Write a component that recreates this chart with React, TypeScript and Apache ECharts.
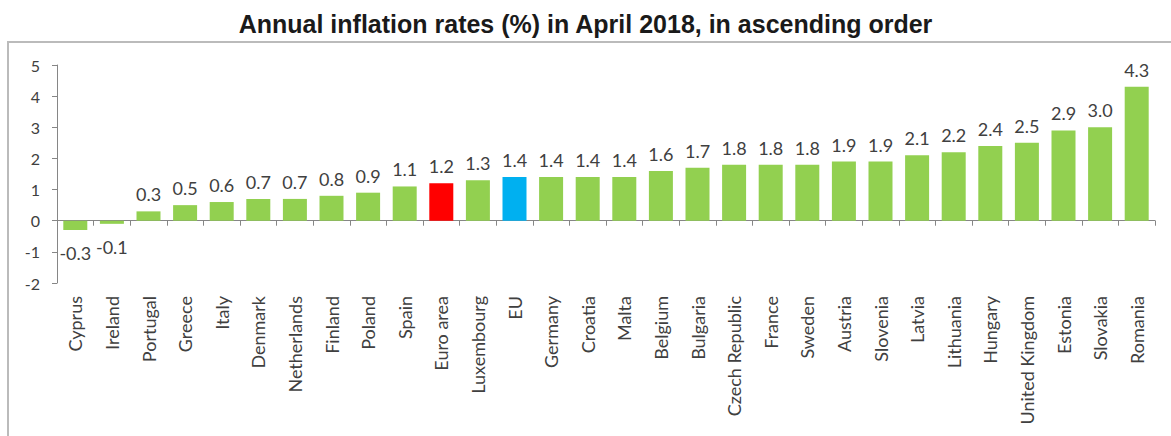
import React, { useEffect, useRef } from "react";
import * as echarts from "echarts";

const categories = [
  "Cyprus", "Ireland", "Portugal", "Greece", "Italy", "Denmark", "Netherlands", "Finland",
  "Poland", "Spain", "Euro area", "Luxembourg", "EU", "Germany", "Croatia", "Malta",
  "Belgium", "Bulgaria", "Czech Republic", "France", "Sweden", "Austria", "Slovenia",
  "Latvia", "Lithuania", "Hungary", "United Kingdom", "Estonia", "Slovakia", "Romania",
];
const values = [
  -0.3, -0.1, 0.3, 0.5, 0.6, 0.7, 0.7, 0.8, 0.9, 1.1, 1.2, 1.3, 1.4, 1.4, 1.4, 1.4,
  1.6, 1.7, 1.8, 1.8, 1.8, 1.9, 1.9, 2.1, 2.2, 2.4, 2.5, 2.9, 3.0, 4.3,
];
const highlight: Record<string, string> = { "Euro area": "#FF0000", EU: "#00B0F0" };
const yTicks = { min: -2, max: 5, interval: 1 };

const GREEN = "#92D050";
const TEXT = "#404040";
const FONT = "Lato, 'Open Sans', sans-serif";

export default function App() {
  const ref = useRef<HTMLDivElement>(null);
  useEffect(() => {
    if (!ref.current) return;
    const chart = echarts.init(ref.current, null, { renderer: "svg" });
    chart.setOption({
      animation: false,
      backgroundColor: "#ffffff",
      title: {
        text: "Annual inflation rates (%) in April 2018, in ascending order",
        left: "center",
        top: 6,
        textStyle: { fontFamily: "Arial, 'Liberation Sans', sans-serif", fontWeight: "bold", fontSize: 25, color: "#1a1a1a" },
      },
      graphic: [
        {
          type: "rect",
          shape: { x: 8, y: 42, width: 1175, height: 420 },
          style: { fill: "none", stroke: "#BBBBBB", lineWidth: 2 },
          silent: true,
        },
      ],
      grid: { left: 57, right: 16, top: 65, bottom: 153, containLabel: false, outerBoundsMode: "none" },
      xAxis: {
        type: "category",
        data: categories,
        axisLine: { onZero: true, lineStyle: { color: "#868686", width: 1 } },
        axisTick: { show: true, length: 5, lineStyle: { color: "#868686" } },
        axisLabel: {
          rotate: 90,
          margin: 13,
          interval: 0,
          color: TEXT,
          fontFamily: FONT,
          fontSize: 18,
        },
      },
      yAxis: {
        type: "value",
        min: yTicks.min,
        max: yTicks.max,
        interval: yTicks.interval,
        axisLine: { show: true, lineStyle: { color: "#868686" } },
        axisTick: { show: true, length: 5, lineStyle: { color: "#868686" } },
        splitLine: { show: false },
        axisLabel: { color: TEXT, fontFamily: FONT, fontSize: 16, margin: 17 },
      },
      series: [
        {
          type: "bar",
          barWidth: 24,
          data: values.map((v, i) => ({
            value: v,
            itemStyle: { color: highlight[categories[i]] || GREEN },
            label: v < 0 ? { position: "bottom", distance: 14 } : { position: "top", distance: 8 },
          })),
          label: {
            show: true,
            color: TEXT,
            fontFamily: FONT,
            fontSize: 18,
            formatter: (p: any) => Number(p.value).toFixed(1),
          },
        },
      ],
    });
    return () => chart.dispose();
  }, []);
  return <div ref={ref} style={{ position: "fixed", left: 0, top: 0, width: 1171, height: 436 }} />;
}
